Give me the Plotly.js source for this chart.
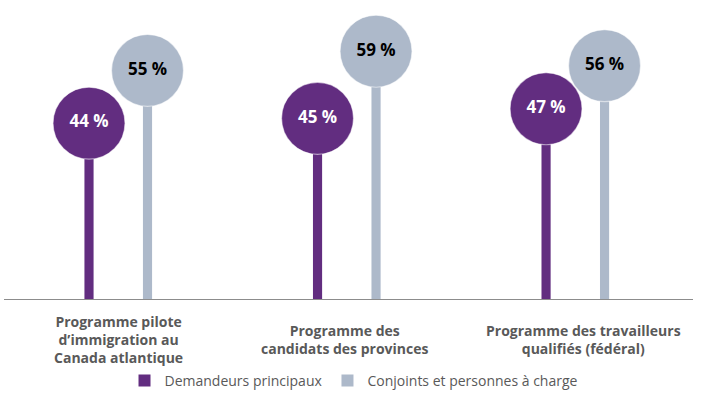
<!DOCTYPE html>
<html>
<head>
<meta charset="utf-8">
<script src="https://cdn.plot.ly/plotly-3.0.1.min.js"></script>
<style>
  html, body { margin: 0; padding: 0; background: #ffffff; }
  #chart { width: 705px; height: 399px; }
</style>
</head>
<body>
<div id="chart"></div>
<script>
// ---- data ----
const categories = [
  "Programme pilote<br>d\u2019immigration au<br>Canada atlantique",
  "Programme des<br>candidats des provinces",
  "Programme des travailleurs<br>qualifiés (fédéral)"
];
const seriesNames = ["Demandeurs principaux", "Conjoints et personnes à charge"];
const principaux = [44, 45, 47];
const conjoints = [55, 59, 56];

// ---- styles ----
const purple = "#622D80";
const grey = "#ADB9CA";
const FONT = "Open Sans, Noto Sans, sans-serif";
const offset = 0.128;
const stemWidth = 0.04;

const idx = categories.map((_, i) => i);
const xP = idx.map(i => i - offset);
const xC = idx.map(i => i + offset);

function stem(x, y, name, color) {
  return {
    type: "bar", x: x, y: y, name: name, width: stemWidth,
    marker: { color: color, line: { width: 0 } },
    hoverinfo: "skip", showlegend: true
  };
}
function bubble(x, y, color, textColor) {
  return {
    type: "scatter", mode: "markers+text", x: x, y: y,
    text: y.map(v => v + " %"), textposition: "middle center",
    textfont: { family: FONT, size: 17, color: textColor, weight: 700 },
    marker: { size: 72, color: color, line: { color: "rgba(255,255,255,0.55)", width: 1.2 } },
    cliponaxis: false, showlegend: false, hoverinfo: "skip"
  };
}

const data = [
  stem(xP, principaux, seriesNames[0], purple),
  stem(xC, conjoints, seriesNames[1], grey),
  bubble(xP, principaux, purple, "#ffffff"),
  bubble(xC, conjoints, grey, "#000000")
];

const labelShift = [0, -2, 8];
const annotations = categories.map((c, i) => ({
  x: i, xref: "x", y: -0.137, yref: "paper",
  xanchor: "center", yanchor: "middle", align: "center",
  text: "<b>" + c + "</b>", showarrow: false, xshift: labelShift[i],
  font: { family: FONT, size: 14, color: "#595959" }
}));

const layout = {
  width: 705, height: 399,
  margin: { l: 4, r: 12, t: 0, b: 100 },
  paper_bgcolor: "#ffffff", plot_bgcolor: "#ffffff",
  barmode: "overlay",
  font: { family: FONT, color: "#595959" },
  xaxis: {
    range: [-0.5, 2.515], showgrid: false, zeroline: false,
    showticklabels: false, ticks: "", showline: true,
    linecolor: "#8c8c8c", linewidth: 1.3, fixedrange: true
  },
  yaxis: {
    range: [7.3, 69.7], showgrid: false, zeroline: false,
    showticklabels: false, ticks: "", showline: false, fixedrange: true
  },
  legend: {
    orientation: "h", x: 0.508, xanchor: "center", y: -0.274, yanchor: "middle",
    font: { family: FONT, size: 14, color: "#595959" },
    itemclick: false, itemdoubleclick: false
  },
  annotations: annotations,
  showlegend: true
};

Plotly.newPlot("chart", data, layout, { staticPlot: true, displayModeBar: false });
</script>
</body>
</html>
